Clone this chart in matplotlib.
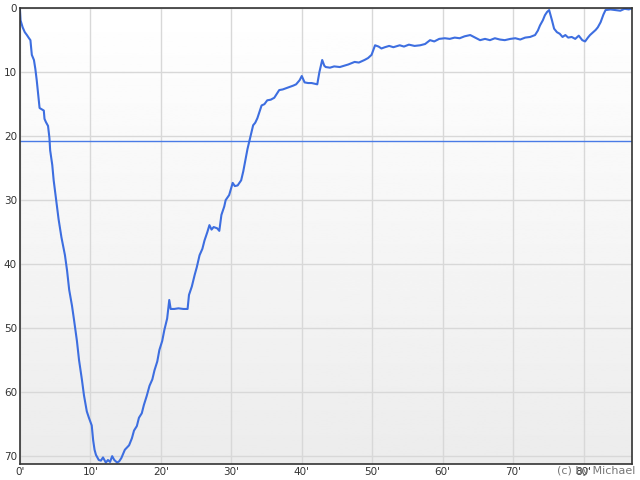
# Dive profile - depth over time
import numpy as np
import matplotlib.pyplot as plt

# time in minutes, depth in metres
minutes = [0, 0.1, 0.4, 0.7, 1.0, 1.3, 1.5, 1.7, 2.0, 2.2, 2.4, 2.6, 2.8, 3.1, 3.4,
           3.5, 3.7, 4.0, 4.2, 4.3, 4.6, 4.8, 5.1, 5.5, 5.9, 6.4, 6.7, 7.0, 7.4,
           7.7, 8.1, 8.4, 8.8, 9.1, 9.5, 9.8, 10.2, 10.4, 10.6, 10.8, 11.2, 11.5,
           11.8, 12.2, 12.5, 12.8, 13.1, 13.4, 13.8, 14.1, 14.4, 14.9, 15.5, 15.9,
           16.2, 16.6, 16.9, 17.3, 17.6, 18.0, 18.4, 18.8, 19.1, 19.5, 19.8, 20.2,
           20.5, 20.9, 21.2, 21.4, 21.9, 22.5, 23.2, 23.8, 24.0, 24.4, 24.8, 25.1,
           25.5, 25.9, 26.2, 26.6, 26.9, 27.2, 27.5, 28.0, 28.3, 28.6, 29.0, 29.2,
           29.7, 30.2, 30.5, 30.9, 31.4, 31.7, 32.0, 32.3, 32.6, 33.1, 33.4, 33.7,
           34.0, 34.3, 34.7, 35.1, 35.6, 36.1, 36.5, 36.8, 37.3, 37.8, 38.3, 38.8,
           39.2, 39.7, 40.0, 40.4, 40.9, 41.4, 42.2, 42.5, 42.9, 43.2, 43.4, 44.0,
           44.6, 45.4, 46.0, 46.6, 47.5, 48.1, 48.9, 49.4, 49.9, 50.4, 50.9, 51.3,
           51.8, 52.4, 53.0, 53.9, 54.5, 55.2, 56.0, 56.8, 57.5, 58.2, 58.8, 59.5,
           60.3, 61.0, 61.7, 62.4, 63.1, 63.9, 64.6, 65.3, 66.0, 66.7, 67.4, 68.1,
           68.8, 69.6, 70.3, 71.0, 71.7, 72.4, 73.1, 73.5, 73.8, 74.2, 74.5, 74.8,
           75.1, 75.5, 75.8, 76.2, 76.6, 77.0, 77.4, 77.8, 78.3, 78.8, 79.3, 79.8,
           80.2, 80.6, 80.9, 81.3, 81.7, 82.0, 82.4, 82.8, 83.1, 83.8, 84.5, 85.2,
           85.8, 86.4, 86.9]
depth = [0, 1.9, 3.0, 3.75, 4.2, 4.7, 5.0, 7.3, 8.1, 9.5, 11.3, 13.5, 15.6, 15.8, 16.0,
         17.3, 17.8, 18.4, 20.3, 22.2, 24.5, 26.9, 29.5, 33.0, 35.8, 38.6, 41.0,
         44.0, 46.5, 48.8, 52.0, 55.0, 58.0, 60.5, 63.0, 64.0, 65.2, 67.5, 69.0,
         69.8, 70.6, 70.7, 70.2, 71.0, 70.6, 70.9, 70.0, 70.6, 71.0, 70.8, 70.3,
         69.0, 68.3, 67.2, 66.0, 65.3, 64.0, 63.3, 62.0, 60.6, 59.0, 58.0, 56.6,
         55.2, 53.4, 52.0, 50.3, 48.5, 45.6, 47.0, 47.0, 46.9, 47.0, 47.0, 44.8,
         43.5, 41.7, 40.5, 38.6, 37.6, 36.3, 35.0, 33.9, 34.6, 34.2, 34.4, 34.8,
         32.3, 31.0, 30.0, 29.2, 27.3, 27.8, 27.7, 26.9, 25.5, 23.75, 22.0, 20.6,
         18.3, 17.9, 17.2, 16.2, 15.2, 15.0, 14.4, 14.3, 14.0, 13.3, 12.8, 12.7,
         12.5, 12.3, 12.1, 11.9, 11.25, 10.6, 11.6, 11.7, 11.7, 11.9, 10.0, 8.1,
         9.0, 9.2, 9.3, 9.1, 9.2, 9.0, 8.8, 8.4, 8.5, 8.1, 7.8, 7.3, 5.8, 6.0, 6.3,
         6.1, 5.9, 6.1, 5.8, 6.0, 5.7, 5.9, 5.8, 5.6, 5.0, 5.2, 4.8, 4.7, 4.8,
         4.6, 4.7, 4.4, 4.2, 4.6, 5.0, 4.8, 5.0, 4.7, 4.9, 5.0, 4.8, 4.7, 4.9,
         4.6, 4.5, 4.2, 3.5, 2.7, 1.9, 1.1, 0.6, 0.3, 1.9, 3.2, 3.75, 4.0, 4.5,
         4.2, 4.6, 4.5, 4.8, 4.3, 5.0, 5.2, 4.6, 4.2, 3.8, 3.4, 3.0, 2.2, 1.0,
         0.3, 0.2, 0.3, 0.4, 0.1, 0.2, 0.0]

ref_depth = 20.7
x_ticks = [0, 10, 20, 30, 40, 50, 60, 70, 80]
y_ticks = [0, 10, 20, 30, 40, 50, 60, 70]

fig = plt.figure(figsize=(6.4, 4.8), dpi=100)
ax = fig.add_axes([0.031, 0.033, 0.957, 0.95])

# light vertical gradient background
grad = np.linspace(1.0, 0.925, 256).reshape(-1, 1)
ax.imshow(grad, cmap='gray', vmin=0, vmax=1, aspect='auto',
          extent=[0, 1, 0, 1], transform=ax.transAxes, zorder=0)

ax.plot(minutes, depth, color='#3d6ee0', lw=1.5, zorder=3)
ax.axhline(ref_depth, color='#4a7be6', lw=1, zorder=2)

ax.set_xlim(0, 86.9)
ax.set_ylim(71.25, 0)
ax.set_xticks(x_ticks)
ax.set_xticklabels([f"{t}'" for t in x_ticks])
ax.set_yticks(y_ticks)
ax.tick_params(length=0, labelsize=7.5, colors='#333333', pad=2)
ax.grid(color='#d8d8d8', lw=1)
ax.set_axisbelow(True)
for s in ax.spines.values():
    s.set_color('#333333')
    s.set_linewidth(1.2)
    s.set_zorder(4)

fig.text(0.993, 0.008, "(c) by Michael", ha='right', va='bottom',
         fontsize=8, color='#777777')

fig.savefig('out.png', dpi=100)
